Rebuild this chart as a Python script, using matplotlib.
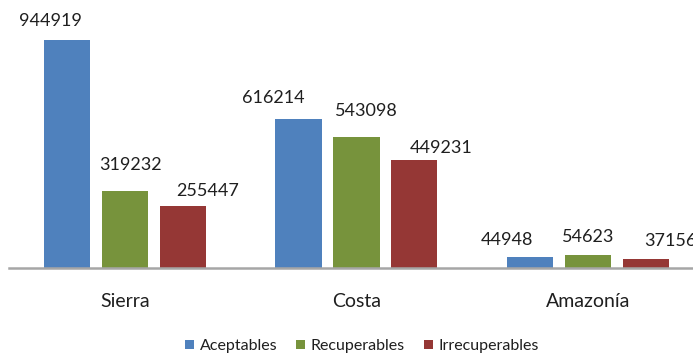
import numpy as np
import matplotlib.pyplot as plt
from matplotlib.patches import Patch

plt.rcParams['font.family'] = ['Lato', 'DejaVu Sans']

regiones = ['Sierra', 'Costa', 'Amazonía']
series = ['Aceptables', 'Recuperables', 'Irrecuperables']
aceptables = [944919, 616214, 44948]
recuperables = [319232, 543098, 54623]
irrecuperables = [255447, 449231, 37156]

colores = ['#4F81BD', '#77933C', '#953735']

# label nudges in pixels (dx, dy above bar top)
label_dx = [[-17, -25, -23], [6, 10, 0], [25, 27, 25]]
label_dy = [[19, 21, 17], [26, 26, 18], [15, 12, 18]]

fig = plt.figure(figsize=(6.93, 3.54), dpi=100)
ax = fig.add_axes([9/693, 86/354, 684/693, 268/354])

x = np.arange(len(regiones))
ancho = 0.2
paso = 0.25
valores = [aceptables, recuperables, irrecuperables]

for i, (vals, col) in enumerate(zip(valores, colores)):
    xs = x + (i - 1)*paso
    ax.bar(xs, vals, ancho, color=col, edgecolor='none', zorder=2)
    for j, v in enumerate(vals):
        ax.annotate(str(v), xy=(xs[j], v), xytext=(label_dx[i][j], label_dy[i][j]),
                    textcoords='offset pixels', ha='center', va='center',
                    fontsize=13, color='#1F1F1F', annotation_clip=False)

ax.set_xlim(-0.501, 2.454)
ax.set_ylim(0, 944919*268/228)
ax.set_xticks(x)
ax.set_xticklabels(regiones, fontsize=14, color='#1F1F1F')
ax.set_yticks([])
ax.tick_params(axis='x', length=0, pad=18)
for s in ['top', 'right', 'left']:
    ax.spines[s].set_visible(False)
ax.spines['bottom'].set_color('#A6A6A6')
ax.spines['bottom'].set_linewidth(1.8)

handles = [Patch(facecolor=c, edgecolor='none') for c in colores]
fig.legend(handles, series, loc='center', bbox_to_anchor=(362/693, 1 - 346/354),
           ncol=3, frameon=False, fontsize=11.5, handlelength=0.55, handleheight=0.55,
           handletextpad=0.35, columnspacing=1.2, labelcolor='#1F1F1F')

plt.savefig('out.png', dpi=100)
plt.close(fig)
